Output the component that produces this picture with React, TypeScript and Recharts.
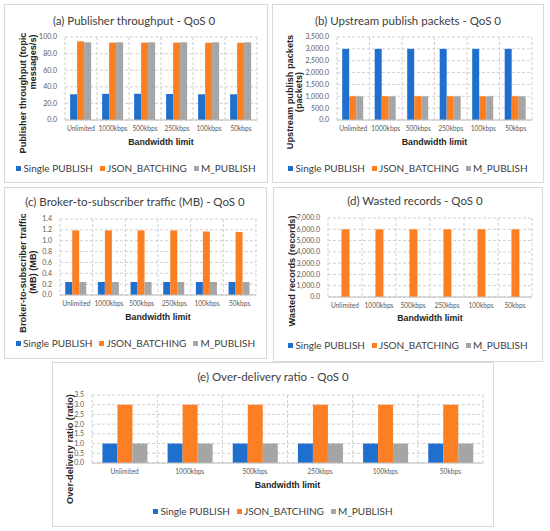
import React from 'react'
import { BarChart, Bar, XAxis, YAxis, CartesianGrid, Legend } from 'recharts'

const categories = ['Unlimited', '1000kbps', '500kbps', '250kbps', '100kbps', '50kbps']

const throughputSingle = [31.0, 31.5, 31.6, 31.3, 31.0, 31.0]
const throughputJson = [94.8, 93.3, 93.3, 93.3, 93.0, 93.0]
const throughputM = [93.6, 93.6, 93.6, 93.6, 93.6, 93.6]
const throughputTicks = [0, 20, 40, 60, 80, 100]

const packetsSingle = [3000, 3000, 3000, 3000, 3000, 3000]
const packetsJson = [1000, 1000, 1000, 1000, 1000, 1000]
const packetsM = [1000, 1000, 1000, 1000, 1000, 1000]
const packetsTicks = [0, 500, 1000, 1500, 2000, 2500, 3000, 3500]

const trafficSingle = [0.24, 0.24, 0.24, 0.24, 0.24, 0.24]
const trafficJson = [1.19, 1.19, 1.19, 1.19, 1.17, 1.16]
const trafficM = [0.24, 0.24, 0.24, 0.24, 0.24, 0.24]
const trafficTicks = [0, 0.2, 0.4, 0.6, 0.8, 1.0, 1.2, 1.4]

const wastedSingle = [0, 0, 0, 0, 0, 0]
const wastedJson = [6000, 6000, 6000, 6000, 6000, 6000]
const wastedM = [0, 0, 0, 0, 0, 0]
const wastedTicks = [0, 1000, 2000, 3000, 4000, 5000, 6000, 7000]

const ratioSingle = [1, 1, 1, 1, 1, 1]
const ratioJson = [3, 3, 3, 3, 3, 3]
const ratioM = [1, 1, 1, 1, 1, 1]
const ratioTicks = [0, 0.5, 1.0, 1.5, 2.0, 2.5, 3.0, 3.5]

const seriesNames = ['Single PUBLISH', 'JSON_BATCHING', 'M_PUBLISH']
const colors = ['#1f6fcf', '#fd7f24', '#a5a5a5']

const BODY_FONT = 'Lato, "Open Sans", sans-serif'
const BOLD_FONT = '"Liberation Sans", Arial, sans-serif'

const oneDecimal = (v: number) => v.toFixed(1)
const thousands = (v: number) =>
    v.toLocaleString('en-US', { minimumFractionDigits: 1, maximumFractionDigits: 1 })

function buildRows(a: number[], b: number[], c: number[]) {
    return categories.map((name, i) => ({ name, single: a[i], json: b[i], m: c[i] }))
}

// legend drawn from the payload recharts hands over, kept in series order
function LegendRow({ payload }: any) {
    const items = [...(payload || [])].sort(
        (a: any, b: any) => seriesNames.indexOf(a.value) - seriesNames.indexOf(b.value)
    )
    return (
        <div style={{ display: 'flex', justifyContent: 'center', alignItems: 'center', gap: 7 }}>
            {items.map((item: any) => (
                <div key={item.value} style={{ display: 'flex', alignItems: 'center' }}>
                    <span style={{ width: 5, height: 5, background: item.color, marginRight: 2 }} />
                    <span style={{ color: '#404040' }}>{item.value}</span>
                </div>
            ))}
        </div>
    )
}

interface YLabelLine {
    text: string
    x: number
    y: number
}

interface PanelProps {
    box: [number, number, number, number] // left, top, right, bottom
    plot: [number, number, number, number]
    title: string
    titleX: number
    titleY: number
    axisTitleY: number
    legendY: number
    yLabel: YLabelLine[]
    ticks: number[]
    format: (v: number) => string
    rows: { name: string; single: number; json: number; m: number }[]
}

function Panel({ box, plot, title, titleX, titleY, axisTitleY, legendY, yLabel, ticks, format, rows }: PanelProps) {
    const [bl, bt, br, bb] = box
    const [pl, pt, pr, pb] = plot
    const w = br - bl
    const h = bb - bt
    const yW = 40
    const xH = 20
    const margin = { left: pl - bl - yW, top: pt - bt, right: br - pr, bottom: bb - pb - xH }

    return (
        <div
            style={{
                position: 'absolute',
                left: bl,
                top: bt,
                width: w,
                height: h,
                border: '1px solid #d9d9d9',
                boxSizing: 'border-box',
                background: '#fff',
            }}
        >
            <div style={{ position: 'absolute', left: -1, top: -1 }}>
                <BarChart
                    width={w}
                    height={h}
                    data={rows}
                    margin={margin}
                    barCategoryGap="16%"
                    barGap={0}
                >
                    <CartesianGrid
                        stroke="#d0d0d0"
                        strokeDasharray="3 2"
                        verticalCoordinatesGenerator={({ offset }: any) =>
                            Array.from({ length: rows.length + 1 }, (_, i) => offset.left + (i * offset.width) / rows.length)
                        }
                    />
                    <XAxis
                        dataKey="name"
                        height={xH}
                        interval={0}
                        tickLine={false}
                        tickSize={4}
                        tickMargin={2}
                        axisLine={{ stroke: '#bfbfbf' }}
                        tick={{ fontSize: 6.6, fill: '#595959', fontFamily: BODY_FONT }}
                    />
                    <YAxis
                        width={yW}
                        domain={[0, ticks[ticks.length - 1]]}
                        ticks={ticks}
                        interval={0}
                        tickFormatter={format}
                        tickLine={false}
                        axisLine={false}
                        tick={{ fontSize: 7, fill: '#595959', fontFamily: BODY_FONT }}
                    />
                    <Legend
                        layout="horizontal"
                        align="center"
                        verticalAlign="middle"
                        content={<LegendRow />}
                        wrapperStyle={{
                            left: 0,
                            top: legendY - bt - 7,
                            width: w,
                            height: 14,
                            fontSize: 10,
                            fontFamily: BODY_FONT,
                            lineHeight: '14px',
                        }}
                    />
                    <Bar dataKey="single" name={seriesNames[0]} fill={colors[0]} isAnimationActive={false} />
                    <Bar dataKey="json" name={seriesNames[1]} fill={colors[1]} isAnimationActive={false} />
                    <Bar dataKey="m" name={seriesNames[2]} fill={colors[2]} isAnimationActive={false} />
                </BarChart>
            </div>
            <svg
                width={w}
                height={h}
                style={{ position: 'absolute', left: -1, top: -1, pointerEvents: 'none', overflow: 'visible' }}
            >
                <text
                    x={titleX - bl}
                    y={titleY - bt}
                    textAnchor="middle"
                    dominantBaseline="central"
                    fontFamily={BODY_FONT}
                    fontSize={11.5}
                    fill="#404040"
                >
                    {title}
                </text>
                <text
                    x={(pl + pr) / 2 - bl}
                    y={axisTitleY - bt}
                    textAnchor="middle"
                    dominantBaseline="central"
                    fontFamily={BOLD_FONT}
                    fontWeight="bold"
                    fontSize={8.8}
                    fill="#262626"
                >
                    Bandwidth limit
                </text>
                {yLabel.map((line) => {
                    const lx = line.x - bl
                    const ly = line.y - bt
                    return (
                        <text
                            key={line.text}
                            x={lx}
                            y={ly}
                            transform={`rotate(-90 ${lx} ${ly})`}
                            textAnchor="middle"
                            dominantBaseline="central"
                            fontFamily={BOLD_FONT}
                            fontWeight="bold"
                            fontSize={9.2}
                            fill="#262626"
                        >
                            {line.text}
                        </text>
                    )
                })}
            </svg>
        </div>
    )
}

export default function App() {
    return (
        <div style={{ position: 'absolute', left: 0, top: 0, width: 550, height: 531, background: '#fff' }}>
            <Panel
                box={[4, 4, 268, 183]}
                plot={[65, 37, 257, 120]}
                title="(a) Publisher throughput - QoS 0"
                titleX={134}
                titleY={20}
                axisTitleY={142}
                legendY={168}
                yLabel={[
                    { text: 'Publisher throughput (topic', x: 23, y: 93 },
                    { text: 'messages/s)', x: 33, y: 62 },
                ]}
                ticks={throughputTicks}
                format={oneDecimal}
                rows={buildRows(throughputSingle, throughputJson, throughputM)}
            />
            <Panel
                box={[272, 4, 544, 183]}
                plot={[337, 37, 532, 120]}
                title="(b) Upstream publish packets - QoS 0"
                titleX={408}
                titleY={20}
                axisTitleY={142}
                legendY={168}
                yLabel={[
                    { text: 'Upstream publish packets', x: 290, y: 92 },
                    { text: '(packets)', x: 299, y: 92 },
                ]}
                ticks={packetsTicks}
                format={thousands}
                rows={buildRows(packetsSingle, packetsJson, packetsM)}
            />
            <Panel
                box={[4, 187, 267, 359]}
                plot={[60, 219, 256, 295]}
                title="(c) Broker-to-subscriber traffic (MB) - QoS 0"
                titleX={135}
                titleY={201}
                axisTitleY={317}
                legendY={343}
                yLabel={[
                    { text: 'Broker-to-subscriber traffic', x: 23, y: 273 },
                    { text: '(MB) (MB)', x: 33, y: 272 },
                ]}
                ticks={trafficTicks}
                format={oneDecimal}
                rows={buildRows(trafficSingle, trafficJson, trafficM)}
            />
            <Panel
                box={[273, 187, 543, 362]}
                plot={[328, 218, 532, 297]}
                title="(d) Wasted records - QoS 0"
                titleX={415}
                titleY={200}
                axisTitleY={318}
                legendY={345}
                yLabel={[{ text: 'Wasted records (records)', x: 292, y: 271 }]}
                ticks={wastedTicks}
                format={thousands}
                rows={buildRows(wastedSingle, wastedJson, wastedM)}
            />
            <Panel
                box={[52, 362, 494, 527]}
                plot={[92, 395, 483, 463]}
                title="(e) Over-delivery ratio - QoS 0"
                titleX={273}
                titleY={376}
                axisTitleY={485}
                legendY={511}
                yLabel={[{ text: 'Over-delivery ratio (ratio)', x: 70, y: 449 }]}
                ticks={ratioTicks}
                format={oneDecimal}
                rows={buildRows(ratioSingle, ratioJson, ratioM)}
            />
        </div>
    )
}
